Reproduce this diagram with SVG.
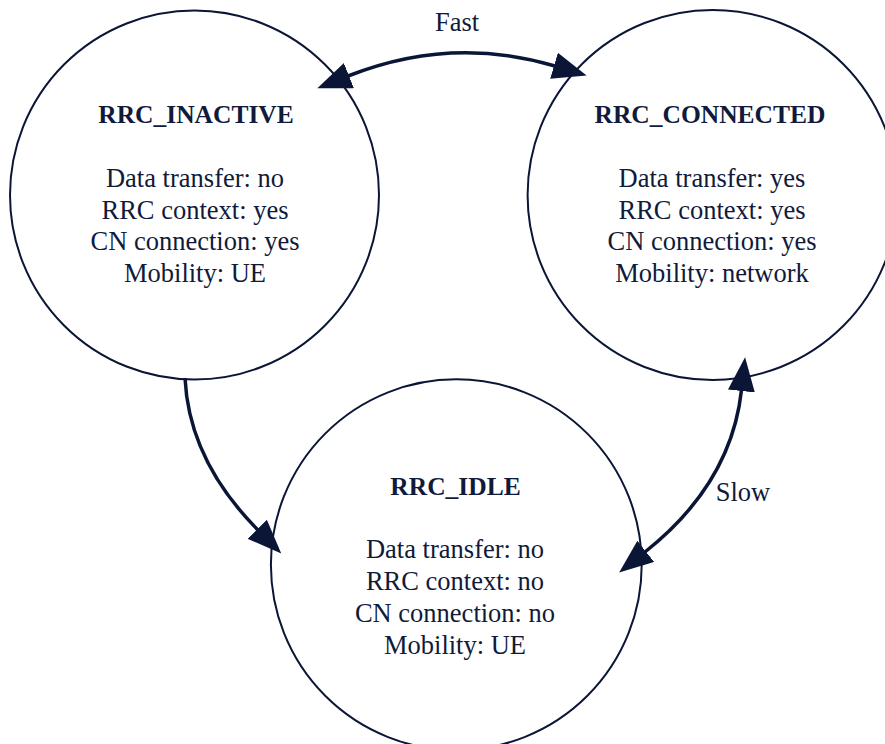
<svg xmlns="http://www.w3.org/2000/svg" width="885" height="744" viewBox="0 0 885 744">
  <style>
    .state { fill: #ffffff; stroke: #0b1637; stroke-width: 2; }
    .title { font-family: 'Liberation Serif', 'DejaVu Serif', serif; font-size: 25.5px; font-weight: bold; fill: #101a3a; text-anchor: middle; }
    .body { font-family: 'Liberation Serif', 'DejaVu Serif', serif; font-size: 26.5px; fill: #101a3a; text-anchor: middle; }
    .edge { fill: none; stroke: #0b1637; stroke-width: 3.5; marker-end: url(#arrow); }
    .both { marker-start: url(#arrow); }
    .label { font-family: 'Liberation Serif', 'DejaVu Serif', serif; font-size: 26.5px; fill: #101a3a; text-anchor: middle; }
  </style>
  <defs>
    <marker id="arrow" markerUnits="userSpaceOnUse" viewBox="0 0 34 27" markerWidth="34" markerHeight="27" refX="1" refY="13.5" orient="auto-start-reverse">
      <path d="M0,0 L34,13.5 L0,27 z" fill="#0b1637"/>
    </marker>
  </defs>
  <rect width="885" height="744" fill="#ffffff"/>

  <g id="rrc_inactive">
    <circle class="state" cx="194.5" cy="195" r="184.5"/>
    <text class="title" x="196" y="123">RRC_INACTIVE</text>
    <text class="body" x="195" y="187">Data transfer: no</text>
    <text class="body" x="195" y="218.5">RRC context: yes</text>
    <text class="body" x="195" y="250">CN connection: yes</text>
    <text class="body" x="195" y="282">Mobility: UE</text>
  </g>

  <g id="rrc_connected">
    <circle class="state" cx="712.6" cy="195" r="185"/>
    <text class="title" x="710" y="123">RRC_CONNECTED</text>
    <text class="body" x="712" y="187">Data transfer: yes</text>
    <text class="body" x="712" y="218.5">RRC context: yes</text>
    <text class="body" x="712" y="250">CN connection: yes</text>
    <text class="body" x="712" y="282">Mobility: network</text>
  </g>

  <g id="rrc_idle">
    <circle class="state" cx="456.3" cy="564.7" r="185.4"/>
    <text class="title" x="455.5" y="495">RRC_IDLE</text>
    <text class="body" x="455" y="558">Data transfer: no</text>
    <text class="body" x="455" y="590">RRC context: no</text>
    <text class="body" x="455" y="622">CN connection: no</text>
    <text class="body" x="455" y="654">Mobility: UE</text>
  </g>

  <g id="connectors">
    <path class="edge both" d="M348,76 Q451,35 555,66"/>
    <path class="edge" d="M185,378 Q189,460.6 258,530"/>
    <path class="edge both" d="M741.5,390 Q731.3,483.6 645,552"/>
    <text class="label" x="457" y="30.5">Fast</text>
    <text class="label" x="743" y="500.5">Slow</text>
  </g>
</svg>
